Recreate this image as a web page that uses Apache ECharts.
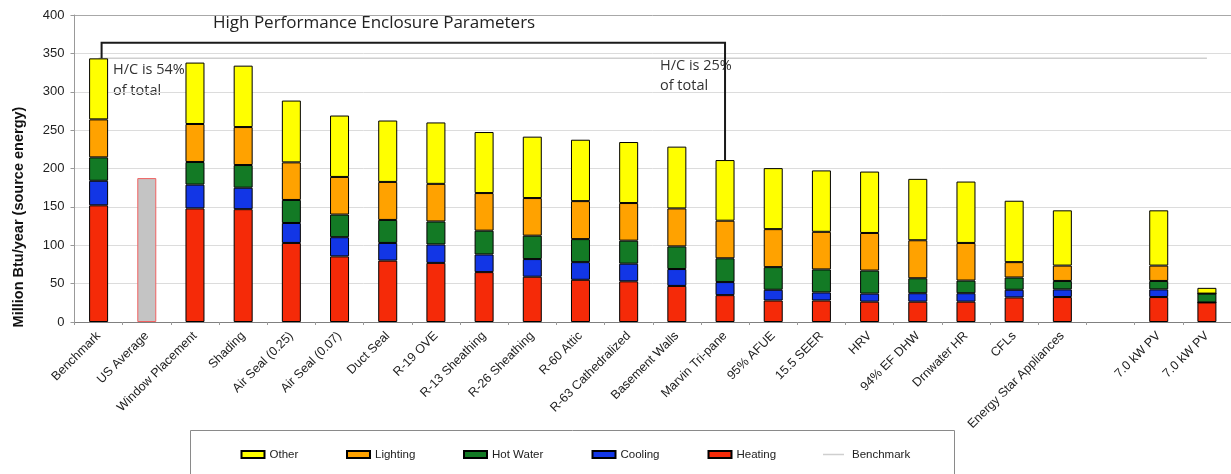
<!DOCTYPE html>
<html>
<head>
<meta charset="utf-8">
<script src="https://cdn.jsdelivr.net/npm/echarts@6/dist/echarts.min.js"></script>
<style>
html,body{margin:0;padding:0;background:#fff;}
#main{width:1231px;height:474px;}
</style>
</head>
<body>
<div id="main"></div>
<script>
const categories = ['Benchmark','US Average','Window Placement','Shading','Air Seal (0.25)','Air Seal (0.07)','Duct Seal','R-19 OVE','R-13 Sheathing','R-26 Sheathing','R-60 Attic','R-63 Cathedralized','Basement Walls','Marvin Tri-pane','95% AFUE','15.5 SEER','HRV','94% EF DHW','Drnwater HR','CFLs','Energy Star Appliances','','7.0 kW PV','7.0 kW PV'];
const heating  = [152,'-',148,147,103,85.5,80,77,65,59,55,53,47,35,28,28,26.5,26.5,26.5,32,32.5,'-',32.5,25.5];
const cooling  = [32,'-',31,28,26,25,23,24,23,23,23,23,22,17,14,10.5,10.5,11,11,10,10,'-',10,0];
const hotWater = [30.5,'-',29.5,29.5,30,29.5,30,30,31,30.5,30,30,29.5,31,29.5,30,30,19.5,16.5,16,11,'-',11,11.5];
const lighting = [49.5,'-',49.5,49.5,49,49,49.5,49,49,49,49.5,49,49.5,49,49.5,49,49,49.5,49,20,20,'-',20,0];
const other    = [79.5,'-',80,80,80.5,80,80,80,79.5,80,80,79.5,80.5,79,79.5,80,80,80,80,80,72,'-',72,7.5];
const usAverage = ['-',187.5,'-','-','-','-','-','-','-','-','-','-','-','-','-','-','-','-','-','-','-','-','-','-'];
const yTicks = [0,50,100,150,200,250,300,350,400];
const bracketLevel = 364;
const bracketFrom = 0;   // Benchmark
const bracketTo = 13;    // Marvin Tri-pane

const num = v => (typeof v === 'number' ? v : 0);
const totals = categories.map((c,i)=>num(heating[i])+num(cooling[i])+num(hotWater[i])+num(lighting[i])+num(other[i]));
const benchmarkLine = categories.map(()=>totals[0]);

const barBase = {type:'bar', stack:'total', barWidth:19, emphasis:{disabled:true}};
const FONT = 'Liberation Sans, Arial, sans-serif';
const LEGEND_TOP = 448.5;

function legendAt(name, left){
  return {data:[{name:name, icon:'rect'}], left:left, top:LEGEND_TOP, itemWidth:23, itemHeight:7, selectedMode:false, padding:0,
    textStyle:{fontFamily:FONT, fontSize:11.5, color:'#222'}};
}

const option = {
  animation:false,
  backgroundColor:'#fff',
  grid:{left:74.5, right:0, top:15, bottom:152, containLabel:false},
  xAxis:{type:'category', data:categories,
    axisLine:{lineStyle:{color:'#808080', width:1}},
    axisTick:{show:true, length:3, lineStyle:{color:'#999'}},
    axisLabel:{interval:0, rotate:45, fontFamily:FONT, fontSize:12.5, color:'#222', margin:12}},
  yAxis:{type:'value', min:0, max:400, interval:50,
    axisLine:{show:true, lineStyle:{color:'#999'}},
    axisTick:{show:true, length:4, lineStyle:{color:'#999'}},
    axisLabel:{fontFamily:FONT, fontSize:13, color:'#222', margin:10,
      formatter: v => yTicks.indexOf(v) >= 0 ? String(v) : ''},
    splitLine:{lineStyle:{color:['#dcdcdc','#dcdcdc','#dcdcdc','#dcdcdc','#dcdcdc','#dcdcdc','#dcdcdc','#dcdcdc','#a8a8a8'], width:1}}},
  legend:[legendAt('Other',240.5), legendAt('Lighting',346), legendAt('Hot Water',463), legendAt('Cooling',591.5), legendAt('Heating',707.5),
    {data:[{name:'Benchmark', icon:'rect'}], left:823, top:LEGEND_TOP, itemWidth:21, itemHeight:1.5, selectedMode:false, padding:0,
     textStyle:{fontFamily:FONT, fontSize:11.5, color:'#222', padding:[0,0,0,3]}}],
  series:[
    Object.assign({}, barBase, {name:'Heating', data:heating, itemStyle:{color:'#f52a08', borderColor:'#000', borderWidth:1}}),
    Object.assign({}, barBase, {name:'Cooling', data:cooling, itemStyle:{color:'#1236e6', borderColor:'#000', borderWidth:1}}),
    Object.assign({}, barBase, {name:'Hot Water', data:hotWater, itemStyle:{color:'#137a25', borderColor:'#000', borderWidth:1}}),
    Object.assign({}, barBase, {name:'Lighting', data:lighting, itemStyle:{color:'#ffa200', borderColor:'#000', borderWidth:1}}),
    Object.assign({}, barBase, {name:'Other', data:other, itemStyle:{color:'#ffff00', borderColor:'#000', borderWidth:1}}),
    Object.assign({}, barBase, {name:'US Average', data:usAverage, itemStyle:{color:'#c4c4c4', borderColor:'#f06060', borderWidth:1}}),
    {name:'Benchmark', type:'line', data:benchmarkLine, symbol:'none', z:1,
     lineStyle:{color:'#cfcfcf', width:1.5}, itemStyle:{color:'#cfcfcf'}, emphasis:{disabled:true}}
  ],
  graphic:[
    {id:'legendBox', type:'rect', shape:{x:190.5, y:430.5, width:764, height:60}, style:{fill:'none', stroke:'#8a8a8a', lineWidth:1}, silent:true},
    {id:'ytitle', type:'text', x:19, y:217, rotation:Math.PI/2,
     style:{text:'Million Btu/year (source energy)', font:'bold 14.5px Liberation Sans, Arial, sans-serif', fill:'#111', align:'center', verticalAlign:'middle'}},
    {id:'title', type:'text', x:213, y:23.5,
     style:{text:'High Performance Enclosure Parameters', font:'17px Open Sans, sans-serif', fill:'#222', align:'left', verticalAlign:'middle'}},
    {id:'ann1', type:'text', x:113, y:59.5,
     style:{text:'H/C is 54%\nof total', font:'14.5px Open Sans, sans-serif', fill:'#333', align:'left', verticalAlign:'top', lineHeight:21}},
    {id:'ann2', type:'text', x:660, y:56,
     style:{text:'H/C is 25%\nof total', font:'14.5px Open Sans, sans-serif', fill:'#333', align:'left', verticalAlign:'top', lineHeight:20}}
  ]
};

const chart = echarts.init(document.getElementById('main'), null, {renderer:'canvas'});
chart.setOption(option);

const a = chart.convertToPixel({gridIndex:0}, [bracketFrom, totals[bracketFrom]]);
const b = chart.convertToPixel({gridIndex:0}, [bracketTo, totals[bracketTo]]);
const yTop = chart.convertToPixel({gridIndex:0}, [bracketFrom, bracketLevel])[1];
chart.setOption({graphic:[{id:'bracket', type:'polyline', z:100,
  shape:{points:[[a[0]+3, a[1]], [a[0]+3, yTop], [b[0], yTop], [b[0], b[1]]]},
  style:{stroke:'#1a1a1a', lineWidth:2, fill:'none'}, silent:true}]});
</script>
</body>
</html>
